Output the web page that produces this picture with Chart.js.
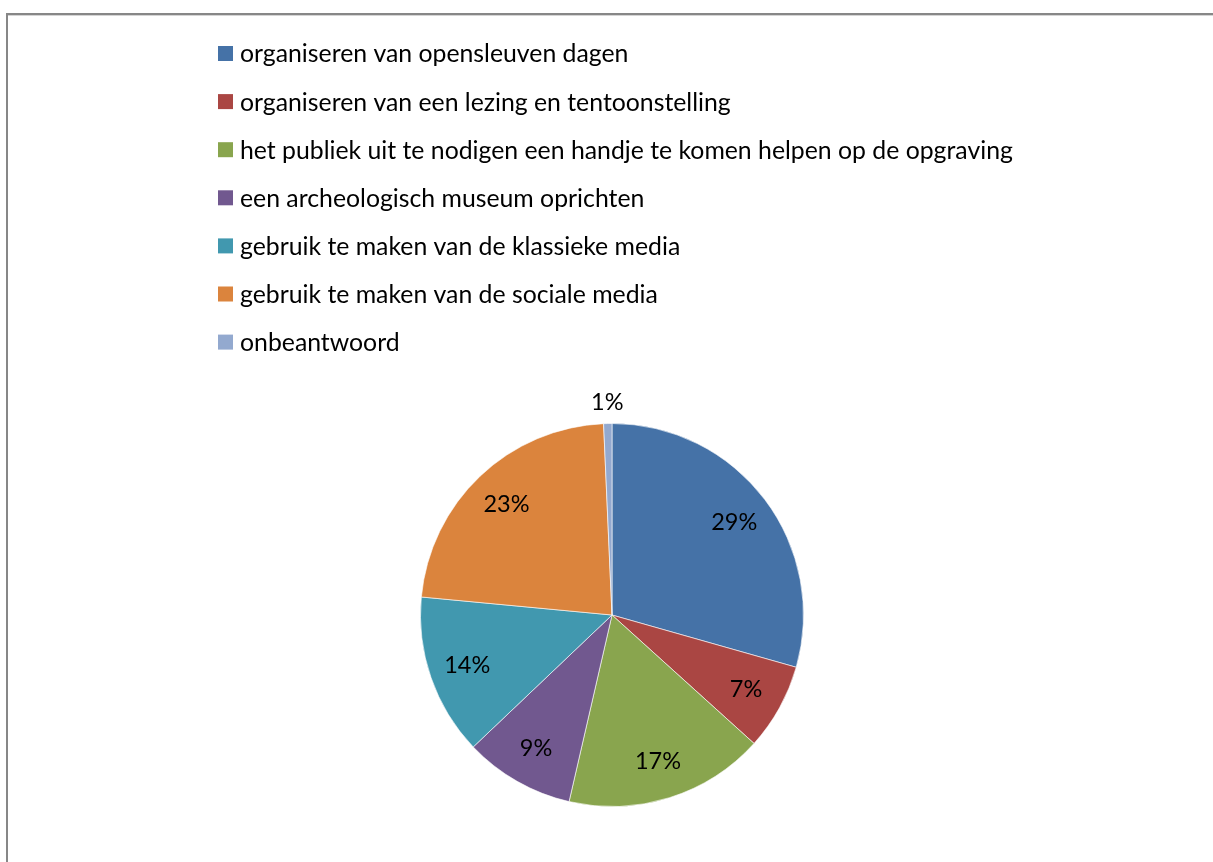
<!DOCTYPE html>
<html>
<head>
<meta charset="utf-8">
<script src="https://cdn.jsdelivr.net/npm/chart.js@4/dist/chart.umd.min.js"></script>
<style>
  html, body { margin: 0; padding: 0; background: #fff; }
  #wrap { width: 1213px; height: 862px; }
</style>
</head>
<body>
<div id="wrap"><canvas id="myChart" width="1213" height="862"></canvas></div>
<script>
// antwoorden en aandelen (in %)
const labels = [
  "organiseren van opensleuven dagen",
  "organiseren van een lezing en tentoonstelling",
  "het publiek uit te nodigen een handje te komen helpen op de opgraving",
  "een archeologisch museum oprichten",
  "gebruik te maken van de klassieke media",
  "gebruik te maken van de sociale media",
  "onbeantwoord"
];
const values = [29.4, 7.3, 16.9, 9.3, 13.6, 22.8, 0.7];
const colors = ["#4572A7", "#AA4643", "#89A54E", "#71588F", "#4198AF", "#DB843D", "#93A9CF"];

const fontFam = "Lato, 'Open Sans', sans-serif";

// kader rond de grafiek (zoals in Excel)
const frame = {
  id: "frame",
  beforeDraw(chart) {
    const c = chart.ctx;
    c.save();
    c.fillStyle = "#878787";
    c.fillRect(6, 13, chart.width - 6, 2);
    c.fillRect(6, 13, 2, chart.height - 13);
    c.fillStyle = "#d4d4d4";
    c.fillRect(8, 15, chart.width - 8, 1);
    c.restore();
  }
};

// legenda als lijst boven de taart
const listLegend = {
  id: "listLegend",
  afterDraw(chart) {
    const c = chart.ctx;
    const items = Chart.overrides.pie.plugins.legend.labels.generateLabels(chart);
    c.save();
    c.font = "24.8px " + fontFam;
    c.textBaseline = "middle";
    items.forEach((it, i) => {
      const y = 53.5 + i * 48.1;
      c.fillStyle = it.fillStyle;
      c.fillRect(218, y - 7.5, 15, 15);
      c.fillStyle = "#000";
      c.fillText(it.text, 240, y + 1);
    });
    c.restore();
  }
};

// percentages op de stukken
const pctLabels = {
  id: "pctLabels",
  afterDraw(chart) {
    const c = chart.ctx;
    const meta = chart.getDatasetMeta(0);
    const data = chart.data.datasets[0].data;
    const total = data.reduce((a, b) => a + b, 0);
    c.save();
    c.font = "23.5px " + fontFam;
    c.fillStyle = "#000";
    c.textAlign = "center";
    c.textBaseline = "middle";
    meta.data.forEach((arc, i) => {
      const p = data[i] / total * 100;
      const mid = (arc.startAngle + arc.endAngle) / 2;
      const r = p < 3 ? arc.outerRadius + 21 : arc.outerRadius * 0.8;
      const x = arc.x + Math.cos(mid) * r;
      const y = arc.y + Math.sin(mid) * r;
      c.fillText(Math.round(p) + "%", x, y);
    });
    c.restore();
  }
};

const ctx = document.getElementById("myChart").getContext("2d");
const myChart = new Chart(ctx, {
  type: "pie",
  data: {
    labels: labels,
    datasets: [
      {
        data: values,
        backgroundColor: colors,
        borderColor: "rgba(255,255,255,0.6)",
        borderWidth: 1,
      },
    ],
  },
  options: {
    responsive: false,
    animation: false,
    layout: { padding: { top: 423, bottom: 55, left: 11, right: 0 } },
    plugins: {
      legend: { display: false },
      tooltip: { enabled: false },
    },
  },
  plugins: [frame, listLegend, pctLabels],
});
</script>
</body>
</html>
